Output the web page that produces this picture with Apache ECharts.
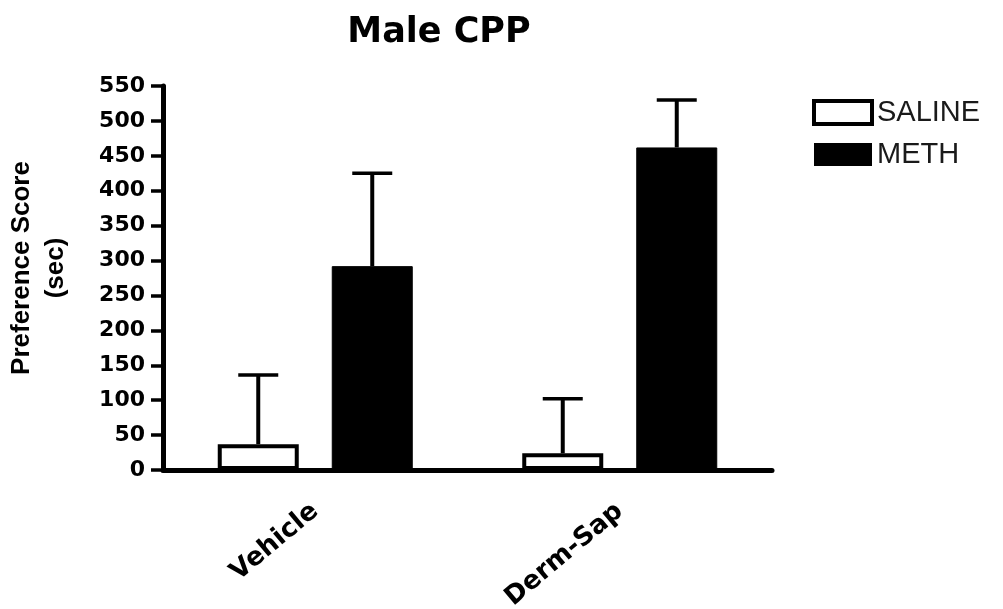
<!DOCTYPE html>
<html>
<head>
<meta charset="utf-8">
<script src="https://cdn.jsdelivr.net/npm/echarts@6/dist/echarts.min.js"></script>
<style>html,body{margin:0;padding:0;background:#fff}#c{width:1003px;height:609px}</style>
</head>
<body>
<div id="c"></div>
<script>
const categories = ['Vehicle', 'Derm-Sap'];
const salineMean = [37, 24];
const salineErr = [99, 78];
const methMean = [292, 462];
const methErr = [133, 68];
const yTicks = { min: 0, max: 550, interval: 50 };

const FONT = 'Arial, "Liberation Sans", sans-serif';
const WIDE = '"DejaVu Sans", Verdana, sans-serif';
const BAR_W = 81, BAR_GAP = 33;
const OFF = (BAR_W + BAR_GAP) / 2;

function errSeries(mean, err, offset) {
  return {
    type: 'custom',
    z: 5,
    silent: true,
    data: mean.map((m, i) => [i, m, m + err[i]]),
    renderItem: function (params, api) {
      const lo = api.coord([api.value(0), api.value(1)]);
      const hi = api.coord([api.value(0), api.value(2)]);
      const x = lo[0] + offset;
      return {
        type: 'group',
        children: [
          { type: 'line', shape: { x1: x, y1: lo[1], x2: x, y2: hi[1] }, style: { stroke: '#000', lineWidth: 4 } },
          { type: 'line', shape: { x1: x - 20, y1: hi[1], x2: x + 20, y2: hi[1] }, style: { stroke: '#000', lineWidth: 3.5 } }
        ]
      };
    }
  };
}

const chart = echarts.init(document.getElementById('c'), null, { renderer: 'canvas' });
chart.setOption({
  backgroundColor: '#fff',
  animation: false,
  title: {
    text: 'Male CPP', left: 434, top: 10, textAlign: 'center',
    textStyle: { fontFamily: WIDE, fontWeight: 'bold', fontSize: 35, color: '#000' }
  },
  legend: {
    orient: 'vertical', left: 807, top: 93, itemWidth: 58, itemHeight: 23, itemGap: 13,
    textStyle: { fontFamily: FONT, fontSize: 29, color: '#1a1a1a' },
    data: [
      { name: 'SALINE', icon: 'rect', itemStyle: { color: '#fff', borderColor: '#000', borderWidth: 4 } },
      { name: 'METH', icon: 'rect', itemStyle: { color: '#000', borderColor: '#000', borderWidth: 0 } }
    ]
  },
  grid: { left: 163, right: 231, top: 86, bottom: 139, containLabel: false, outerBoundsMode: 'none' },
  xAxis: {
    type: 'category', data: categories,
    axisLine: { lineStyle: { color: '#000', width: 5 } },
    axisTick: { alignWithLabel: true, length: 9, lineStyle: { color: '#000', width: 4 } },
    axisLabel: { rotate: 40, margin: 38, fontFamily: WIDE, fontWeight: 'bold', fontSize: 26, color: '#000' }
  },
  yAxis: {
    type: 'value', min: yTicks.min, max: yTicks.max, interval: yTicks.interval,
    name: 'Preference Score\n(sec)', nameLocation: 'middle', nameGap: 90, nameRotate: 90,
    nameTextStyle: { fontFamily: FONT, fontWeight: 'bold', fontSize: 26, color: '#000', lineHeight: 34, padding: [0, 0, 0, 20] },
    axisLine: { show: true, lineStyle: { color: '#000', width: 5 } },
    axisTick: { show: true, length: 12, lineStyle: { color: '#000', width: 3.5 } },
    axisLabel: { margin: 18, fontFamily: WIDE, fontWeight: 'bold', fontSize: 22, color: '#000' },
    splitLine: { show: false }
  },
  series: [
    {
      name: 'SALINE', type: 'bar', data: salineMean, barWidth: BAR_W, barGap: (BAR_GAP / BAR_W * 100) + '%',
      itemStyle: { color: '#fff', borderColor: '#000', borderWidth: 4 }, z: 3
    },
    {
      name: 'METH', type: 'bar', data: methMean, barWidth: BAR_W,
      itemStyle: { color: '#000', borderColor: '#000', borderWidth: 1 }, z: 3
    },
    errSeries(salineMean, salineErr, -OFF),
    errSeries(methMean, methErr, OFF)
  ]
});
</script>
</body>
</html>
